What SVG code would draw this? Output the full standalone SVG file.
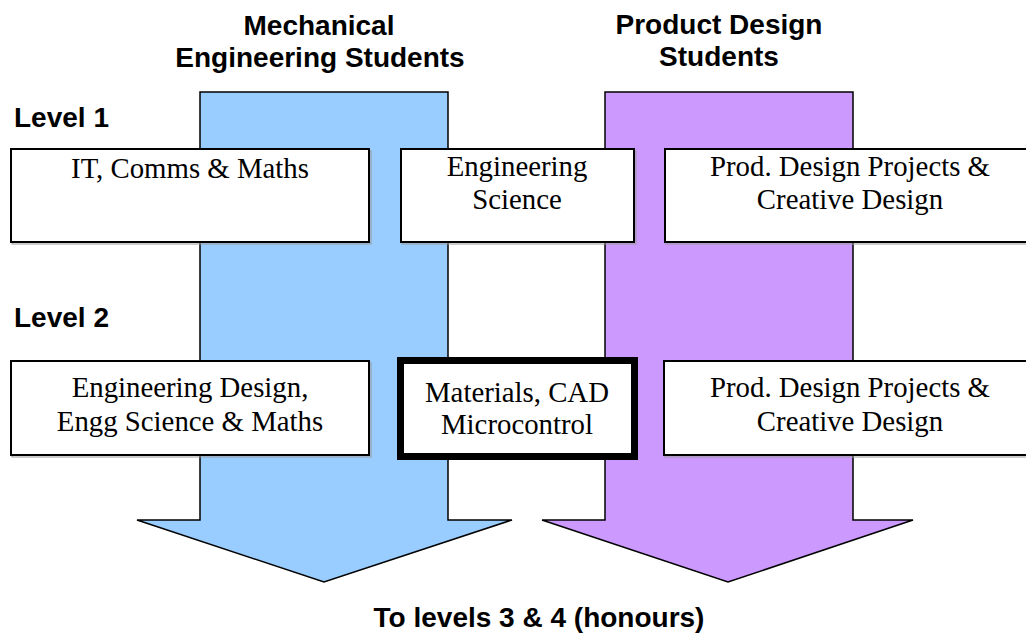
<svg xmlns="http://www.w3.org/2000/svg" width="1026" height="634" viewBox="0 0 1026 634">
<style>
.h{font-family:"Liberation Sans",Arial,sans-serif;font-weight:bold;font-size:28px;fill:#000}
.t{font-family:"Liberation Serif","Times New Roman",serif;font-size:28.8px;fill:#000;text-anchor:middle}
.box{fill:#fff;stroke:#000;stroke-width:2}
.sh{fill:none;stroke:#999;stroke-width:1}
.arr{stroke:#000;stroke-width:1.5;stroke-linejoin:miter}
</style>
<rect width="1026" height="634" fill="#fff"/>
<g id="connectors">
<polygon id="arrow-mech" class="arr" fill="#99CCFF" points="200,92 448,92 448,520 512,520 324,582 137,520 200,520"/>
<polygon id="arrow-prod" class="arr" fill="#CC99FF" points="605,92 853,92 853,520 913,520 728,582 542,520 605,520"/>
</g>
<g id="title-mech"><text class="h" text-anchor="middle" x="319" y="35">Mechanical</text><text class="h" text-anchor="middle" x="320" y="67">Engineering Students</text></g>
<g id="title-prod"><text class="h" text-anchor="middle" x="719" y="34">Product Design</text><text class="h" text-anchor="middle" x="719" y="66">Students</text></g>
<g id="level1"><text class="h" x="14" y="127">Level 1</text></g>
<g id="level2"><text class="h" x="14" y="327">Level 2</text></g>
<g id="l1-it"><rect class="sh" x="12" y="151" width="359" height="93"/><rect class="box" x="11" y="149" width="358" height="93"/><text class="t" x="190" y="178">IT, Comms &amp; Maths</text></g>
<g id="l1-es"><rect class="sh" x="402" y="151" width="234" height="93"/><rect class="box" x="401" y="149" width="233" height="93"/><text class="t" x="517" y="176">Engineering</text><text class="t" x="517" y="209">Science</text></g>
<g id="l1-pd"><rect class="sh" x="666" y="151" width="372" height="93"/><rect class="box" x="665" y="149" width="372" height="93"/><text class="t" x="850" y="176">Prod. Design Projects &amp;</text><text class="t" x="850" y="209">Creative Design</text></g>
<g id="l2-ed"><rect class="sh" x="12" y="363" width="359" height="94"/><rect class="box" x="11" y="361" width="358" height="94"/><text class="t" x="190" y="397">Engineering Design,</text><text class="t" x="190" y="431">Engg Science &amp; Maths</text></g>
<g id="l2-mat"><rect x="400.5" y="360.5" width="234" height="96" fill="#fff" stroke="#000" stroke-width="7"/><text class="t" x="517" y="402">Materials, CAD</text><text class="t" x="517" y="434">Microcontrol</text></g>
<g id="l2-pd"><rect class="sh" x="665" y="363" width="372" height="94"/><rect class="box" x="664" y="361" width="372" height="94"/><text class="t" x="850" y="397">Prod. Design Projects &amp;</text><text class="t" x="850" y="431">Creative Design</text></g>
<g id="footer"><text class="h" text-anchor="middle" x="539" y="627">To levels 3 &amp; 4 (honours)</text></g>
</svg>
